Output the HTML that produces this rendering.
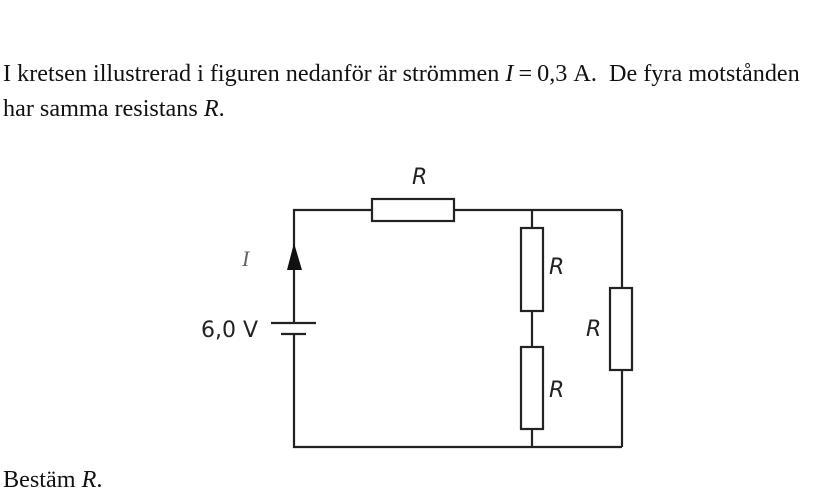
<!DOCTYPE html>
<html><head><meta charset="utf-8"><style>
body{margin:0;width:840px;height:501px;background:#fff;position:relative;overflow:hidden;font-family:"Liberation Serif",serif;color:#111}
.t{position:absolute;left:3px;font-size:24.2px;white-space:nowrap}
i{font-family:"Liberation Serif",serif}
.m{margin:0 5px}
</style></head><body>
<div class="t" style="top:60px">I kretsen illustrerad i figuren nedanför är strömmen <i>I</i><span class="m">=</span>0,3&nbsp;A.&nbsp;&nbsp;De fyra motstånden</div>
<div class="t" style="top:95px">har samma resistans <i>R</i>.</div>
<div class="t" style="top:466px">Bestäm <i>R</i>.</div>
<svg width="840" height="501" style="position:absolute;left:0;top:0" font-family="DejaVu Sans, sans-serif">
<g stroke="#222" stroke-width="2.2" fill="none">
<polyline points="294,323 294,210 372,210"/>
<line x1="454" y1="210" x2="622" y2="210"/>
<line x1="622" y1="210" x2="622" y2="288"/>
<line x1="622" y1="370" x2="622" y2="447"/>
<line x1="532" y1="210" x2="532" y2="228"/>
<line x1="532" y1="311" x2="532" y2="347"/>
<line x1="532" y1="429" x2="532" y2="447"/>
<polyline points="294,334 294,447 622,447"/>
<rect x="372" y="199" width="82" height="22" fill="#fff"/>
<rect x="521" y="228" width="22" height="83" fill="#fff"/>
<rect x="521" y="347" width="22" height="82" fill="#fff"/>
<rect x="610" y="288" width="22" height="82" fill="#fff"/>
<line x1="271" y1="323" x2="316" y2="323"/>
<line x1="281" y1="334" x2="306" y2="334"/>
</g>
<polygon points="294,243 287,270 302,270" fill="#111"/>
<g font-style="italic" font-size="22" fill="#222">
<text x="412" y="184">R</text>
<text x="549" y="274">R</text>
<text x="586" y="336">R</text>
<text x="549" y="397">R</text>
</g>
<text x="242" y="266" font-family="Liberation Serif, serif" font-style="italic" font-size="22" fill="#666">I</text>
<text x="201" y="337" font-size="22" fill="#222">6,0 V</text>
</svg>
</body></html>
